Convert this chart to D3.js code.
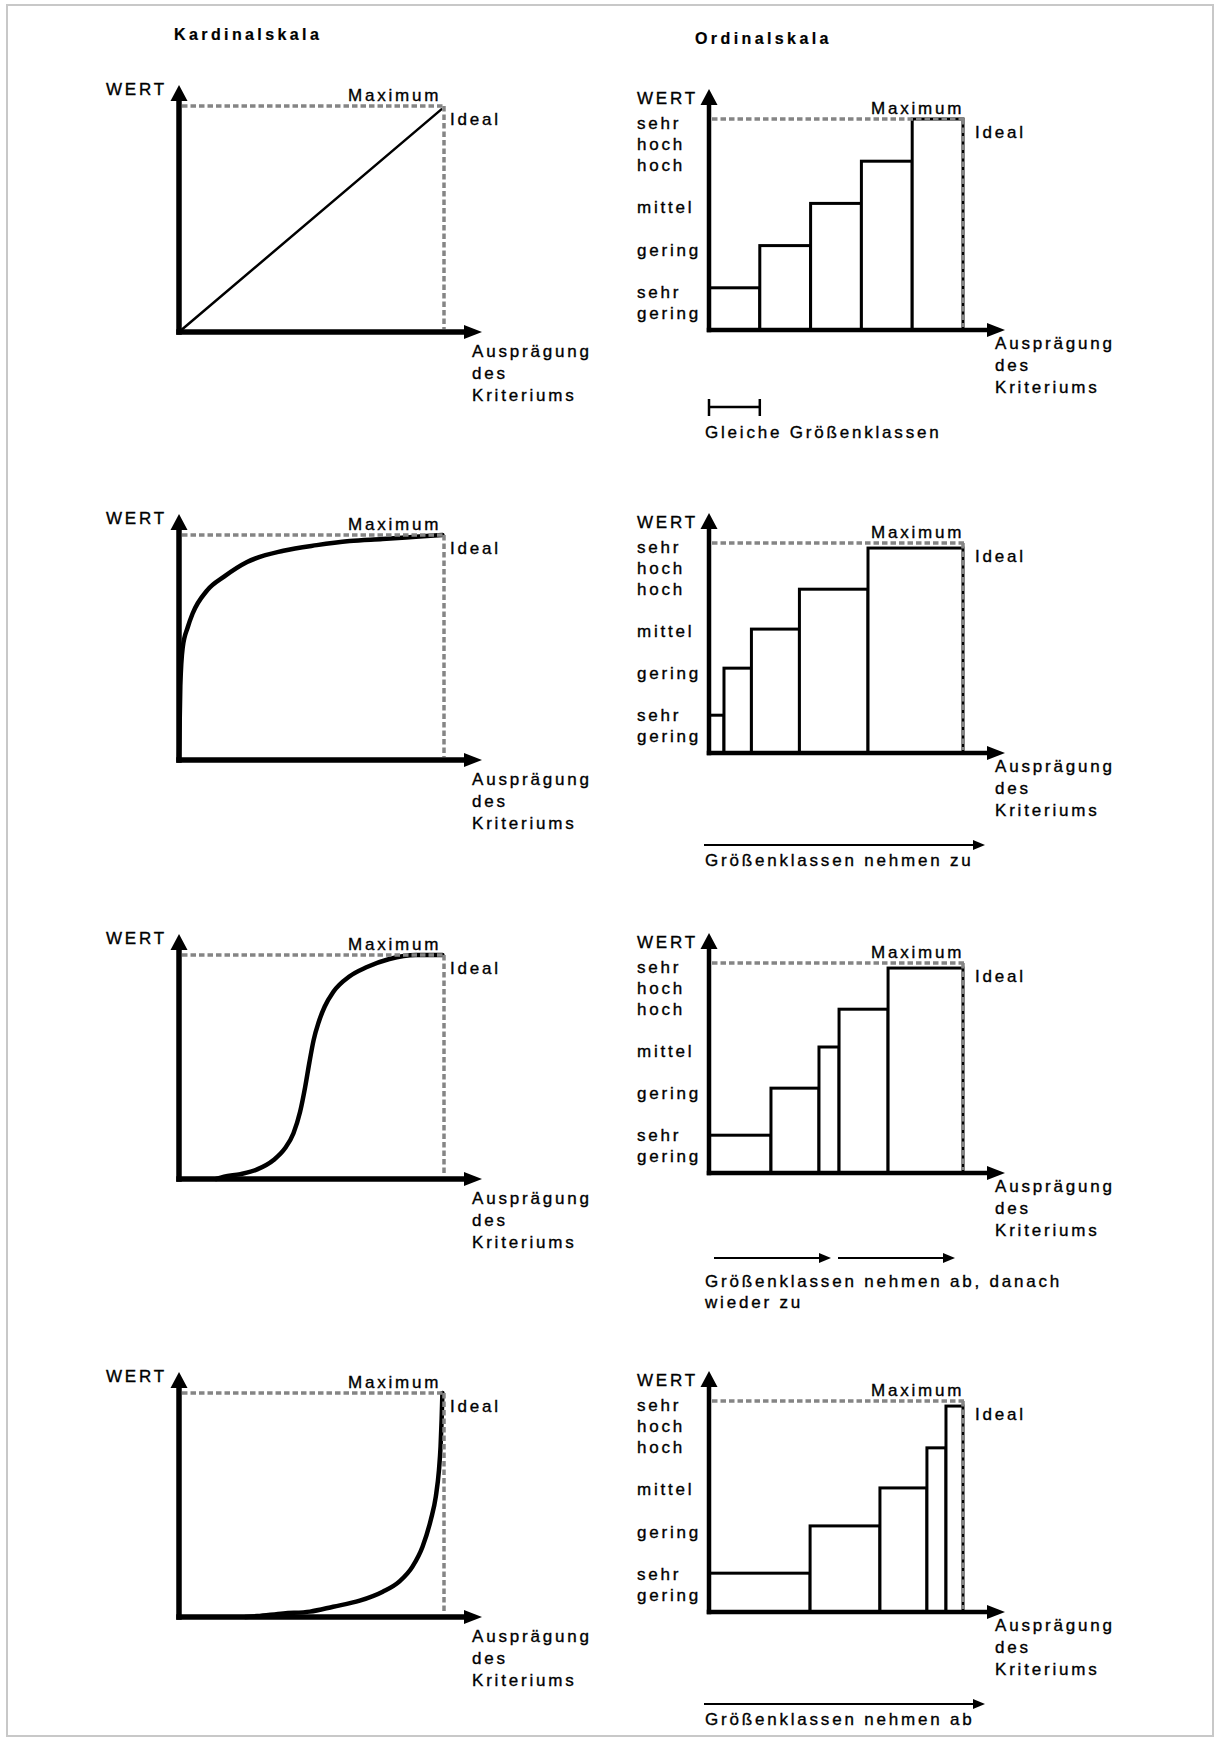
<!DOCTYPE html>
<html>
<head>
<meta charset="utf-8">
<script src="https://cdn.jsdelivr.net/npm/d3@7"></script>
<style>
  html, body { margin: 0; padding: 0; background: #fff; }
  svg text { font-family: "Liberation Sans", Arial, Helvetica, sans-serif; font-size: 17px; letter-spacing: 2.8px;
    fill: #000; stroke: #000; stroke-width: 0.35px; }
  svg text.title { font-weight: bold; font-size: 16px; letter-spacing: 3.4px; stroke-width: 0.2px; }
</style>
</head>
<body>
<svg id="chart" width="1220" height="1738"></svg>
<script>
// Column headings
const columnTitles = ["Kardinalskala", "Ordinalskala"];

// Names of the ordinal value levels, from the lowest to the highest
const levelLabels = [["sehr", "gering"], ["gering"], ["mittel"], ["hoch"], ["sehr", "hoch"]];

// Cardinal value functions: [Ausprägung, Wert] as shares of the ideal point
const linearCurve = [[0, 0], [0.99, 0.985]];
const concaveCurve = [[0, 0], [0.005, 0.33], [0.014, 0.5], [0.033, 0.59], [0.051, 0.65], [0.107, 0.755],
  [0.17, 0.815], [0.257, 0.88], [0.394, 0.93], [0.52, 0.955], [0.644, 0.973], [0.768, 0.982],
  [0.894, 0.992], [0.994, 1]];
const sigmoidCurve = [[0.14, 0], [0.17, 0.01], [0.232, 0.022], [0.295, 0.043], [0.357, 0.085], [0.40, 0.137],
  [0.432, 0.204], [0.457, 0.30], [0.476, 0.41], [0.492, 0.52], [0.508, 0.62], [0.527, 0.70],
  [0.55, 0.77], [0.582, 0.835], [0.644, 0.905], [0.707, 0.945], [0.794, 0.982], [0.894, 1], [0.994, 1]];
const convexCurve = [[0.25, 0], [0.295, 0.004], [0.394, 0.016], [0.494, 0.024], [0.582, 0.046], [0.682, 0.073],
  [0.769, 0.113], [0.831, 0.158], [0.881, 0.225], [0.919, 0.314], [0.95, 0.433], [0.969, 0.537],
  [0.981, 0.656], [0.987, 0.76], [0.991, 0.879], [0.994, 1]];

// Ordinal value functions: class boundaries (share of the range) and value level of each class
const equalEdges = [0, 0.2, 0.4, 0.6, 0.8, 1];
const equalValues = [1, 2, 3, 4, 5];
const growingEdges = [0, 0.059, 0.167, 0.356, 0.626, 1];
const growingValues = [0.9, 2.02, 2.95, 3.9, 4.88];
const mixedEdges = [0, 0.244, 0.433, 0.512, 0.705, 1];
const mixedValues = [0.9, 2.02, 3.0, 3.9, 4.88];
const shrinkingEdges = [0, 0.398, 0.673, 0.858, 0.933, 1];
const shrinkingValues = [0.92, 2.04, 2.94, 3.89, 4.88];

// Notes under the ordinal panels
const classNotes = [
  ["Gleiche Größenklassen"],
  ["Größenklassen nehmen zu"],
  ["Größenklassen nehmen ab, danach", "wieder zu"],
  ["Größenklassen nehmen ab"]
];

const axisTitle = "WERT";
const maxLabel = "Maximum";
const idealLabel = "Ideal";
const xTitle = ["Ausprägung", "des", "Kriteriums"];

const svg = d3.select("#chart");
const GRAY = "#858585";

// page frame
svg.append("rect").attr("x", 7).attr("y", 5).attr("width", 1206).attr("height", 1731)
  .attr("fill", "none").attr("stroke", "#c8c8c8").attr("stroke-width", 2);

svg.append("text").attr("class", "title").attr("x", 174).attr("y", 40).text(columnTitles[0]);
svg.append("text").attr("class", "title").attr("x", 695).attr("y", 44).text(columnTitles[1]);

// Draws the two arrowed axes, the dashed maximum / ideal guides and their labels
function frame(g, p) {
  // guides
  g.append("line").attr("x1", p.x0 + 3).attr("x2", p.x1 + 1.5).attr("y1", p.top).attr("y2", p.top)
    .attr("stroke", GRAY).attr("stroke-width", 3.5).attr("stroke-dasharray", "5.5,3");
  g.append("line").attr("x1", p.x1).attr("x2", p.x1).attr("y1", p.top).attr("y2", p.base - 3)
    .attr("stroke", GRAY).attr("stroke-width", 3.5).attr("stroke-dasharray", "5.5,3");
  // axes
  g.append("line").attr("x1", p.x0).attr("x2", p.x0).attr("y1", p.base + p.aw / 2).attr("y2", p.tipY + 10)
    .attr("stroke", "#000").attr("stroke-width", p.aw);
  g.append("line").attr("x1", p.x0 - p.aw / 2).attr("x2", p.tipX - 10).attr("y1", p.base).attr("y2", p.base)
    .attr("stroke", "#000").attr("stroke-width", p.aw);
  g.append("path").attr("d", `M${p.x0},${p.tipY}L${p.x0 - 8.5},${p.tipY + 16}L${p.x0 + 8.5},${p.tipY + 16}Z`);
  g.append("path").attr("d", `M${p.tipX},${p.base}L${p.tipX - 18},${p.base - 7}L${p.tipX - 18},${p.base + 7}Z`);
  // labels
  g.append("text").attr("x", p.wertX).attr("y", p.top - p.wertDy).text(axisTitle);
  g.append("text").attr("x", p.x1 - p.maxDx).attr("y", p.top - 5).text(maxLabel);
  g.append("text").attr("x", p.x1 + p.idealDx).attr("y", p.top + 19).text(idealLabel);
  xTitle.forEach((t, i) => g.append("text").attr("x", p.tipX - 10).attr("y", p.base + p.xtDy + i * 21.8).text(t));
}

// cardinal panels
const cardinalRows = [
  { curve: linearCurve, base: 332, top: 106, width: 2.5 },
  { curve: concaveCurve, base: 760, top: 535, width: 4.5 },
  { curve: sigmoidCurve, base: 1179, top: 955, width: 4.5 },
  { curve: convexCurve, base: 1617, top: 1393, width: 4.5 }
];
cardinalRows.forEach(r => {
  const p = { x0: 179, x1: 444, tipX: 482, base: r.base, top: r.top, tipY: r.top - 21, aw: 5.5,
    wertX: 106, wertDy: 11, xtDy: 25, maxDx: 96, idealDx: 6 };
  const x = d3.scaleLinear().domain([0, 1]).range([p.x0, p.x1]);
  const y = d3.scaleLinear().domain([0, 1]).range([p.base, p.top]);
  const g = svg.append("g");
  const line = d3.line().x(d => x(d[0])).y(d => y(d[1])).curve(d3.curveMonotoneX);
  g.append("path").datum(r.curve).attr("d", line).attr("fill", "none").attr("stroke", "#000")
    .attr("stroke-width", r.width).attr("stroke-linejoin", "round").attr("stroke-linecap", "round");
  frame(g, p);
});

// ordinal panels
const ordinalRows = [
  { edges: equalEdges, values: equalValues, base: 330, top: 119 },
  { edges: growingEdges, values: growingValues, base: 753, top: 543 },
  { edges: mixedEdges, values: mixedValues, base: 1173, top: 963 },
  { edges: shrinkingEdges, values: shrinkingValues, base: 1612, top: 1401 }
];
ordinalRows.forEach((r, ri) => {
  const p = { x0: 709, x1: 963, tipX: 1005, base: r.base, top: r.top, tipY: r.top - 30, aw: 4.5,
    wertX: 637, wertDy: 15, xtDy: 19, maxDx: 92, idealDx: 12 };
  const x = d3.scaleLinear().domain([0, 1]).range([p.x0, p.x1]);
  const y = d3.scaleLinear().domain([0, levelLabels.length]).range([p.base, p.top]);
  const g = svg.append("g");
  const bars = r.values.map((v, i) => ({ a: r.edges[i], b: r.edges[i + 1], v }));
  g.selectAll("rect.bar").data(bars).join("rect").attr("class", "bar")
    .attr("x", d => x(d.a)).attr("width", d => x(d.b) - x(d.a))
    .attr("y", d => y(d.v)).attr("height", d => y(0) - y(d.v))
    .attr("fill", "#fff").attr("stroke", "#000").attr("stroke-width", 3);
  frame(g, p);
  // level names next to the value axis
  levelLabels.forEach((lines, li) => {
    lines.forEach((t, k) => g.append("text").attr("x", 637).attr("y", y(li + 1) + 10 + k * 21).text(t));
  });
  // note on the class widths
  const note = classNotes[ri];
  const ah = (x2, yy) => g.append("path").attr("d", `M${x2},${yy}L${x2 - 12},${yy - 5}L${x2 - 12},${yy + 5}Z`);
  if (ri === 0) {
    const yy = p.base + 77;
    g.append("line").attr("x1", x(r.edges[0])).attr("x2", x(r.edges[1])).attr("y1", yy).attr("y2", yy)
      .attr("stroke", "#000").attr("stroke-width", 2.5);
    [r.edges[0], r.edges[1]].forEach(e => g.append("line").attr("x1", x(e)).attr("x2", x(e))
      .attr("y1", yy - 8).attr("y2", yy + 9).attr("stroke", "#000").attr("stroke-width", 2.5));
    g.append("text").attr("x", 705).attr("y", p.base + 108).text(note[0]);
  } else if (ri === 2) {
    const yy = p.base + 85;
    [[714, 831], [838, 955]].forEach(([a, b]) => {
      g.append("line").attr("x1", a).attr("x2", b - 10).attr("y1", yy).attr("y2", yy).attr("stroke", "#000").attr("stroke-width", 2);
      ah(b, yy);
    });
    note.forEach((t, k) => g.append("text").attr("x", 705).attr("y", p.base + 114 + k * 21).text(t));
  } else {
    const yy = p.base + 92;
    g.append("line").attr("x1", 704).attr("x2", 975).attr("y1", yy).attr("y2", yy).attr("stroke", "#000").attr("stroke-width", 2);
    ah(985, yy);
    g.append("text").attr("x", 705).attr("y", p.base + 113).text(note[0]);
  }
});
</script>
</body>
</html>
